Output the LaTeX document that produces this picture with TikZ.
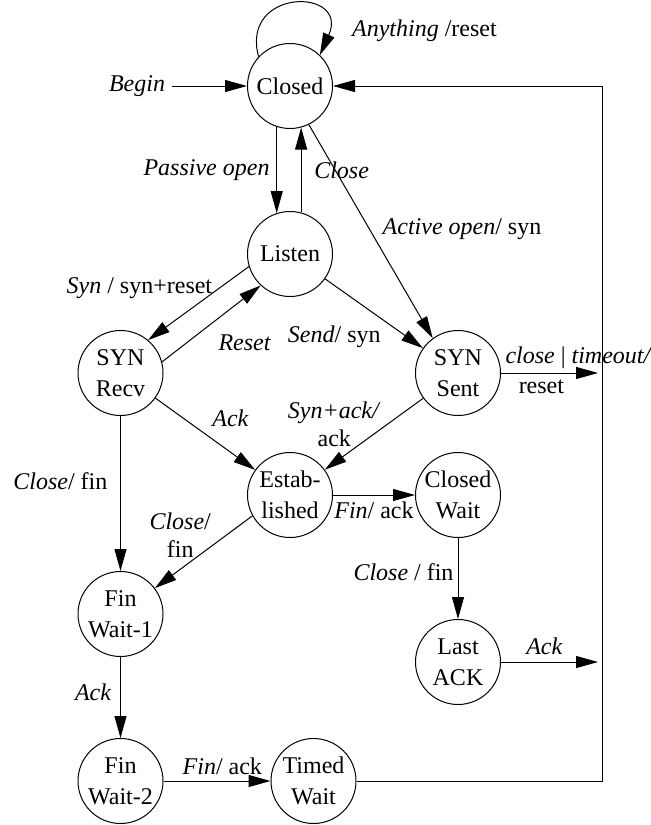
\documentclass[tikz,border=0pt]{standalone}
\usepackage{fontspec}
\setmainfont{Liberation Serif}
\usetikzlibrary{arrows.meta, positioning}
\tikzset{
  sbox/.style={draw, circle, on grid, minimum size=42.5pt, inner sep=0pt, align=center,
    font=\fontsize{12}{15.5}\selectfont, line width=0.5pt},
  flow/.style={-{Triangle[length=11pt, width=6pt]}, line width=0.5pt},
  lbl/.style={align=center}
}

\begin{document}
\begin{tikzpicture}[font=\fontsize{12}{14}\selectfont]
\useasboundingbox (0,0) rectangle (325.5pt,-412.5pt);
\node[sbox] (closed) at (145pt,-43pt) {Closed};
\node[sbox, below=84pt of closed] (listen) {Listen};
\node[sbox, below left=59.5pt and 84.75pt of listen] (recv) {SYN\\Recv};
\node[sbox, below right=59.5pt and 84pt of listen] (sent) {SYN\\Sent};
\node[sbox, below=120.5pt of listen] (est) {Estab-\\lished};
\node[sbox, right=84pt of est] (cwait) {Closed\\Wait};
\node[sbox, below=120.5pt of recv] (fw1) {Fin\\Wait-1};
\node[sbox, below=83.5pt of cwait] (lack) {Last\\ACK};
\node[sbox, below=83.5pt of fw1] (fw2) {Fin\\Wait-2};
\node[sbox, right=96.5pt of fw2] (tw) {Timed\\Wait};
\node[lbl, on grid, left=76.5pt of closed] (begin) {\textit{Begin}};
\coordinate[on grid, right=156pt of closed] (rail);

\draw[flow] (begin) -- (closed);
\draw[flow] (closed.137) to[out=105, in=66, out distance=36pt, in distance=37pt]
  node[pos=0.9, right=10pt, yshift=3pt] {\textit{Anything} /reset} (closed.46);
\draw[flow] (closed.-108) -- node[midway, left] {\textit{Passive open}} (listen.108);
\draw[flow] (listen.75) -- node[midway, right=3pt] {\textit{Close}} (closed.-75);
\draw[flow] (closed.-64) -- node[pos=0.49, right=3pt] {\textit{Active open}/ syn} (sent.126);
\draw[flow] (listen.197) -- node[pos=0.3, left, inner sep=3pt] {\textit{Syn} / syn+reset} (recv.50);
\draw[flow] (recv.15) -- node[pos=0.5, anchor=north west, yshift=-2pt] {\textit{Reset}} (listen.227);
\draw[flow] (listen) -- node[pos=0.58, anchor=north east, xshift=3pt] {\textit{Send}/ syn} (sent);
\draw[flow] (recv) -- node[midway, anchor=south west] {\textit{Ack}} (est);
\draw[flow] (sent) -- node[pos=0.36, anchor=east, lbl] {\textit{Syn+ack/}\\ack} (est);
\draw[flow, shorten >=2pt] (sent) -- node[pos=0, anchor=south west, inner sep=2pt] {\textit{close} | \textit{timeout/}}
  node[pos=0.4, below] {reset} (sent -| rail);
\draw[flow] (est) -- node[midway, below, inner sep=3pt] {\textit{Fin}/ ack} (cwait);
\draw[flow] (recv) -- node[pos=0.42, left=3pt] {\textit{Close}/ fin} (fw1);
\draw[flow] (est.209) -- node[pos=0.27, left=4pt, lbl] {\textit{Close}/\\fin} (fw1.37);
\draw[flow] (cwait) -- node[pos=0.42, left, inner sep=2pt] {\textit{Close} / fin} (lack);
\draw[flow, shorten >=2pt] (lack) -- node[pos=0.43, above] {\textit{Ack}} (lack -| rail);
\draw[flow] (fw1) -- node[pos=0.43, left=1pt] {\textit{Ack}} (fw2);
\draw[flow] (fw2) -- node[pos=0.55, above, inner sep=3pt] {\textit{Fin}/ ack} (tw);
\draw[flow] (tw.east) -| (rail) -- (closed.east);
\end{tikzpicture}
\end{document}
